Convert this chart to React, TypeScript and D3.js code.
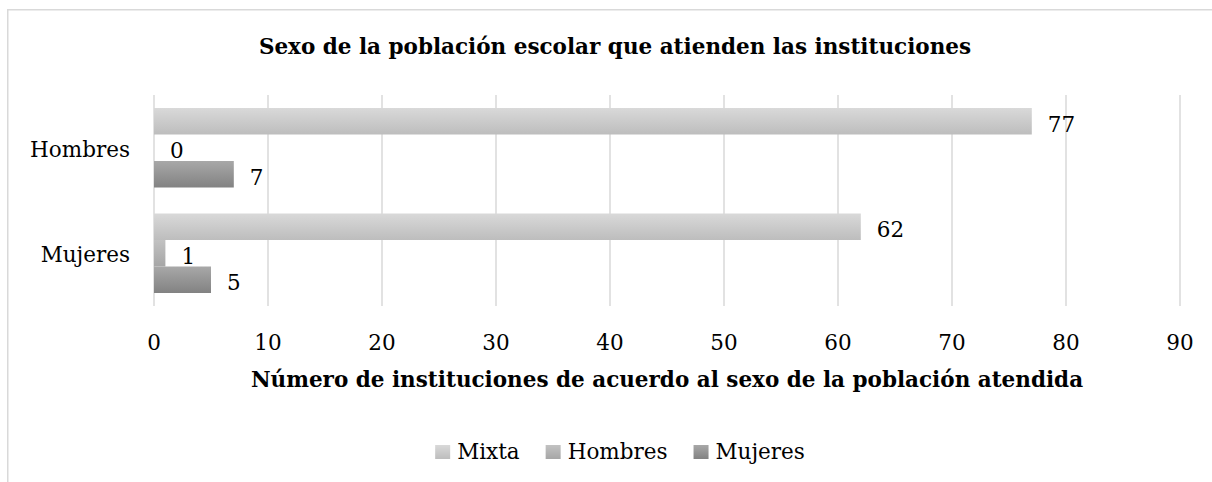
import React, { useEffect, useRef } from "react";
import * as d3 from "d3";

const categories = ["Hombres", "Mujeres"];
const seriesNames = ["Mixta", "Hombres", "Mujeres"];
const mixtaValues = [77, 62];
const hombresValues = [0, 1];
const mujeresValues = [7, 5];
const xTicks = [0, 10, 20, 30, 40, 50, 60, 70, 80, 90];
const titleText = "Sexo de la población escolar que atienden las instituciones";
const xAxisTitle = "Número de instituciones de acuerdo al sexo de la población atendida";

const seriesValues = [mixtaValues, hombresValues, mujeresValues];
const gradients = [
  ["#d9d9d9", "#bdbdbd"],
  ["#c2c2c2", "#a6a6a6"],
  ["#a8a8a8", "#828282"],
];

const W = 1212;
const H = 482;
const FONT = "'DejaVu Serif', serif";
const FS = 21.5;
const FSB = 21.5;

export default function App() {
  const ref = useRef<SVGSVGElement | null>(null);

  useEffect(() => {
    const svg = d3.select(ref.current);
    svg.selectAll("*").remove();

    const defs = svg.append("defs");
    gradients.forEach((g, i) => {
      const lg = defs
        .append("linearGradient")
        .attr("id", `grad${i}`)
        .attr("x1", 0)
        .attr("y1", 0)
        .attr("x2", 0)
        .attr("y2", 1);
      lg.append("stop").attr("offset", "0%").attr("stop-color", g[0]);
      lg.append("stop").attr("offset", "100%").attr("stop-color", g[1]);
    });

    // outer border
    svg
      .append("rect")
      .attr("x", 7.75)
      .attr("y", 9.75)
      .attr("width", W + 20)
      .attr("height", H + 20)
      .attr("fill", "none")
      .attr("stroke", "#d9d9d9")
      .attr("stroke-width", 1.5);

    const x = d3.scaleLinear().domain([0, 90]).range([154, 1180]);
    const y = d3.scaleBand<string>().domain(categories).range([95, 306]).padding(0);
    const yInner = d3
      .scaleBand<string>()
      .domain(seriesNames)
      .range([13, y.bandwidth() - 13])
      .padding(0);

    // gridlines
    svg
      .append("g")
      .selectAll("line")
      .data(xTicks)
      .join("line")
      .attr("x1", (d) => x(d))
      .attr("x2", (d) => x(d))
      .attr("y1", 95)
      .attr("y2", 306)
      .attr("stroke", "#d9d9d9")
      .attr("stroke-width", 1.5);

    // bars
    seriesNames.forEach((s, si) => {
      const g = svg.append("g");
      g.selectAll("rect")
        .data(categories.map((c, ci) => ({ c, v: seriesValues[si][ci] })))
        .join("rect")
        .attr("x", x(0))
        .attr("y", (d) => (y(d.c) as number) + (yInner(s) as number))
        .attr("width", (d) => x(d.v) - x(0))
        .attr("height", yInner.bandwidth())
        .attr("fill", `url(#grad${si})`);
      g.selectAll("text")
        .data(categories.map((c, ci) => ({ c, v: seriesValues[si][ci] })))
        .join("text")
        .attr("x", (d) => x(d.v) + 16)
        .attr("y", (d) => (y(d.c) as number) + (yInner(s) as number) + yInner.bandwidth() / 2 + 10.5)
        .attr("font-family", FONT)
        .attr("font-size", FS)
        .attr("fill", "#000")
        .text((d) => String(d.v));
    });

    // category labels
    svg
      .append("g")
      .selectAll("text")
      .data(categories)
      .join("text")
      .attr("x", 130)
      .attr("y", (d) => (y(d) as number) + y.bandwidth() / 2 + 9)
      .attr("text-anchor", "end")
      .attr("font-family", FONT)
      .attr("font-size", FS)
      .text((d) => d);

    // tick labels
    svg
      .append("g")
      .selectAll("text")
      .data(xTicks)
      .join("text")
      .attr("x", (d) => x(d))
      .attr("y", 350)
      .attr("text-anchor", "middle")
      .attr("font-family", FONT)
      .attr("font-size", FS)
      .text((d) => String(d));

    // title
    svg
      .append("text")
      .attr("x", 615)
      .attr("y", 54)
      .attr("text-anchor", "middle")
      .attr("font-family", FONT)
      .attr("font-weight", "bold")
      .attr("font-size", FSB)
      .text(titleText);

    // axis title
    svg
      .append("text")
      .attr("x", (x(0) + x(90)) / 2)
      .attr("y", 387)
      .attr("text-anchor", "middle")
      .attr("font-family", FONT)
      .attr("font-weight", "bold")
      .attr("font-size", FSB)
      .text(xAxisTitle);

    // legend
    const legend = svg.append("g");
    const items = legend
      .selectAll("g")
      .data(seriesNames)
      .join("g");
    items
      .append("rect")
      .attr("width", 15)
      .attr("height", 14)
      .attr("y", 445)
      .attr("fill", (_d, i) => `url(#grad${i})`);
    const texts = items
      .append("text")
      .attr("x", 22)
      .attr("y", 459)
      .attr("font-family", FONT)
      .attr("font-size", FS)
      .text((d) => d);
    const widths: number[] = [];
    texts.each(function () {
      widths.push((this as SVGTextElement).getComputedTextLength());
    });
    const gap = 26;
    const itemW = widths.map((w) => 22 + w);
    const total = d3.sum(itemW) + gap * (itemW.length - 1);
    let cx = 620 - total / 2;
    items.attr("transform", (_d, i) => {
      const t = `translate(${cx},0)`;
      cx += itemW[i] + gap;
      return t;
    });
  }, []);

  return (
    <svg
      ref={ref}
      width={W}
      height={H}
      style={{ position: "absolute", left: 0, top: 0, background: "#fff" }}
    />
  );
}
